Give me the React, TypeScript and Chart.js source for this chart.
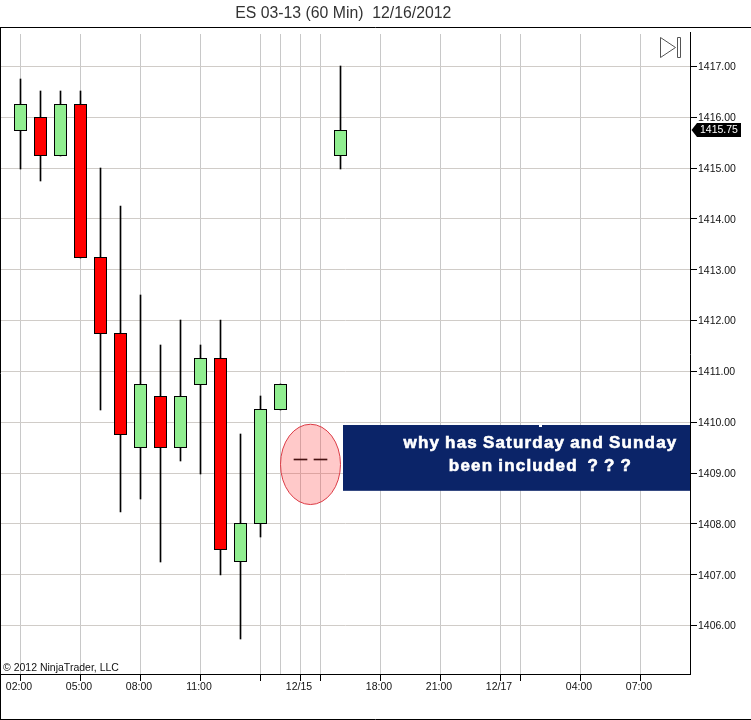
import React, { useEffect, useRef } from "react";
import { Chart, registerables } from "chart.js";

Chart.register(...registerables);

const TITLE = "ES 03-13 (60 Min)  12/16/2012 ";
const COPYRIGHT = "© 2012 NinjaTrader, LLC";
const NOTE_LINES = ["why has Saturday and Sunday", "been included  ? ? ?"];
const LAST_PRICE = 1415.75;

const opens = [1415.75, 1416, 1415.25, 1416.25, 1413.25, 1411.75, 1409.5, 1410.5, 1409.5, 1410.75, 1411.25, 1407.25, 1408, 1410.25, 1409.25, 1409.25, 1415.25];
const closes = [1416.25, 1415.25, 1416.25, 1413.25, 1411.75, 1409.75, 1410.75, 1409.5, 1410.5, 1411.25, 1407.5, 1408, 1410.25, 1410.75, 1409.25, 1409.25, 1415.75];
const highs = [1416.75, 1416.5, 1416.5, 1416.5, 1415, 1414.25, 1412.5, 1411.5, 1412, 1411.5, 1412, 1409.75, 1410.5, 1410.75, 1409.25, 1409.25, 1417];
const lows = [1415, 1414.75, 1415.25, 1413.25, 1410.25, 1408.25, 1408.5, 1407.25, 1409.25, 1409, 1407, 1405.75, 1407.75, 1410.25, 1409.25, 1409.25, 1415];

const xTickSlots = [0, 3, 6, 9, 12, 13, 14, 15, 18, 21, 24, 25, 28, 31];
const xTickLabels = ["02:00", "05:00", "08:00", "11:00", "", "", "12/15", "", "18:00", "21:00", "12/17", "", "04:00", "07:00"];
const unmarkedSlots = [13];
const yTickValues = [1406, 1407, 1408, 1409, 1410, 1411, 1412, 1413, 1414, 1415, 1416, 1417];

const slots = opens.map((_, i) => i);
const isDoji = (i: number) => opens[i] === closes[i];
const bodyData = (keep: (i: number) => boolean) =>
  slots.filter(keep).map((i) => ({ x: i, y: [Math.min(opens[i], closes[i]), Math.max(opens[i], closes[i])] }));

const overlayPlugin = {
  id: "overlay",
  beforeDraw(chart: any) {
    const { ctx, width, height } = chart;
    ctx.save();
    ctx.fillStyle = "#fff";
    ctx.fillRect(0, 0, width, height);
    ctx.restore();
  },
  // snap bar edges to whole pixels so bodies and wicks stay crisp
  afterDatasetsUpdate(chart: any) {
    chart.data.datasets.forEach((ds: any, di: number) => {
      chart.getDatasetMeta(di).data.forEach((el: any) => {
        if (ds.label === "Flat") {
          el.y = Math.floor((el.y + el.base) / 2);
          el.base = el.y + 1;
        } else {
          el.y = Math.floor(el.y);
          el.base = Math.floor(el.base) + 1;
        }
      });
    });
  },
  afterDraw(chart: any) {
    const { ctx, width, scales, chartArea } = chart;
    const x = scales.x;
    const y = scales.y;
    ctx.save();
    // outer frame
    ctx.strokeStyle = "#000";
    ctx.lineWidth = 1;
    ctx.beginPath();
    ctx.moveTo(0, 27.5);
    ctx.lineTo(width, 27.5);
    ctx.moveTo(0.5, 27);
    ctx.lineTo(0.5, 720);
    ctx.moveTo(0, 719.5);
    ctx.lineTo(width, 719.5);
    ctx.moveTo(chartArea.right + 0.5, 32);
    ctx.lineTo(chartArea.right + 0.5, chartArea.top);
    ctx.stroke();

    // ellipse
    const ex1 = x.getPixelForValue(13);
    const ex2 = x.getPixelForValue(16);
    const ey1 = y.getPixelForValue(1409.96);
    const ey2 = y.getPixelForValue(1408.38);
    ctx.beginPath();
    ctx.ellipse((ex1 + ex2) / 2, (ey1 + ey2) / 2, (ex2 - ex1) / 2, (ey2 - ey1) / 2, 0, 0, Math.PI * 2);
    ctx.fillStyle = "rgba(255,60,60,0.28)";
    ctx.fill();
    ctx.strokeStyle = "rgb(220,60,70)";
    ctx.stroke();

    // note box
    const bx = x.getPixelForValue(16.125);
    const by1 = y.getPixelForValue(1409.945);
    const by2 = y.getPixelForValue(1408.65);
    ctx.fillStyle = "#0b2468";
    ctx.fillRect(bx, by1, chartArea.right - bx, by2 - by1);
    ctx.fillStyle = "#fff";
    ctx.strokeStyle = "#fff";
    ctx.lineWidth = 0.6;
    ctx.fillRect(x.getPixelForValue(26) - 1.5, by1, 3, 2);
    ctx.textAlign = "center";
    ctx.textBaseline = "middle";
    ctx.font = 'bold 17px "Liberation Sans"';
    (ctx as any).letterSpacing = "1.2px";
    (ctx as any).wordSpacing = "-1px";
    const cx = x.getPixelForValue(26);
    NOTE_LINES.forEach((line, i) => {
      const ly = y.getPixelForValue(i === 0 ? 1409.59 : 1409.14);
      ctx.fillText(line, cx, ly);
      ctx.strokeText(line, cx, ly);
    });
    (ctx as any).letterSpacing = "0px";
    (ctx as any).wordSpacing = "0px";
    ctx.lineWidth = 1;

    // copyright
    ctx.fillStyle = "#111";
    ctx.textAlign = "left";
    ctx.font = '10.5px "Liberation Sans"';
    ctx.fillText(COPYRIGHT, 3, 668);

    // jump-to-end glyph
    ctx.strokeStyle = "#555";
    ctx.beginPath();
    ctx.moveTo(660.5, 37.5);
    ctx.lineTo(675.5, 47.5);
    ctx.lineTo(660.5, 57.5);
    ctx.closePath();
    ctx.rect(677.5, 37.5, 3, 20);
    ctx.stroke();

    // last price marker
    const py = Math.round(y.getPixelForValue(LAST_PRICE));
    ctx.fillStyle = "#000";
    ctx.beginPath();
    ctx.moveTo(691.5, py);
    ctx.lineTo(697, py - 7);
    ctx.lineTo(741, py - 7);
    ctx.lineTo(741, py + 7);
    ctx.lineTo(697, py + 7);
    ctx.closePath();
    ctx.fill();
    ctx.fillStyle = "#fff";
    ctx.textAlign = "left";
    ctx.font = '10.5px "Liberation Sans"';
    ctx.fillText(LAST_PRICE.toFixed(2), 700, py + 0.5);
    ctx.restore();
  },
};

export default function App() {
  const ref = useRef<HTMLCanvasElement>(null);
  useEffect(() => {
    const chart = new Chart(ref.current!, {
      type: "bar",
      plugins: [overlayPlugin],
      data: {
        datasets: [
          {
            label: "Wick",
            data: slots.filter((i) => highs[i] > lows[i]).map((i) => ({ x: i, y: [lows[i], highs[i]] })),
            backgroundColor: "#000",
            barThickness: 1,
            grouped: false,
            order: 3,
          },
          {
            label: "Up",
            data: bodyData((i) => closes[i] > opens[i]),
            backgroundColor: "#90ee90",
            borderColor: "#000",
            borderWidth: 1,
            borderSkipped: false,
            inflateAmount: 0,
            barThickness: 13,
            grouped: false,
            order: 2,
          },
          {
            label: "Down",
            data: bodyData((i) => closes[i] < opens[i]),
            backgroundColor: "#ff0000",
            borderColor: "#000",
            borderWidth: 1,
            borderSkipped: false,
            inflateAmount: 0,
            barThickness: 13,
            grouped: false,
            order: 2,
          },
          {
            label: "Flat",
            data: bodyData(isDoji),
            backgroundColor: "#000",
            barThickness: 13,
            minBarLength: 1,
            grouped: false,
            order: 1,
          },
        ] as any,
      },
      options: {
        animation: false,
        responsive: false,
        layout: { padding: { left: 1, top: 0, right: 0, bottom: 0 } },
        plugins: {
          legend: { display: false },
          tooltip: { enabled: false },
          title: {
            display: true,
            text: TITLE,
            fullSize: false,
            color: "#333",
            font: { family: '"Liberation Sans"', size: 15.8, weight: "normal" },
            padding: { top: 4, bottom: 11.04 },
          },
        },
        scales: {
          x: {
            type: "linear",
            offset: false,
            min: -0.975,
            max: 33.475,
            afterBuildTicks: (s: any) => {
              s.ticks = xTickSlots.map((value) => ({ value }));
            },
            afterFit: (s: any) => {
              s.height = 46;
            },
            grid: {
              offset: false,
              color: "#c8c8c8",
              tickLength: 7,
              tickColor: (c: any) => (c.tick && unmarkedSlots.includes(c.tick.value) ? "rgba(0,0,0,0)" : "#000"),
            },
            border: { display: true, color: "#000" },
            ticks: {
              autoSkip: false,
              maxRotation: 0,
              padding: 0,
              labelOffset: -1.5,
              color: "#111",
              font: { family: '"Liberation Sans"', size: 10.5 },
              callback: (v: any) => xTickLabels[xTickSlots.indexOf(Number(v))] ?? "",
            },
          },
          y: {
            type: "linear",
            position: "right",
            min: 1405.045,
            max: 1417.64,
            afterBuildTicks: (s: any) => {
              s.ticks = yTickValues.map((value) => ({ value }));
            },
            afterFit: (s: any) => {
              s.width = 61;
            },
            grid: { color: "#d0ccc8", tickLength: 7, tickColor: "#000" },
            border: { display: true, color: "#000" },
            ticks: {
              padding: 1,
              labelOffset: 1,
              color: "#111",
              font: { family: '"Liberation Sans"', size: 10.5 },
              callback: (v: any) => Number(v).toFixed(2),
            },
          },
        },
      },
    } as any);
    return () => chart.destroy();
  }, []);
  return (
    <div style={{ position: "absolute", left: 0, top: 0, width: 751, height: 720 }}>
      <canvas ref={ref} width={751} height={720} style={{ display: "block" }} />
    </div>
  );
}
